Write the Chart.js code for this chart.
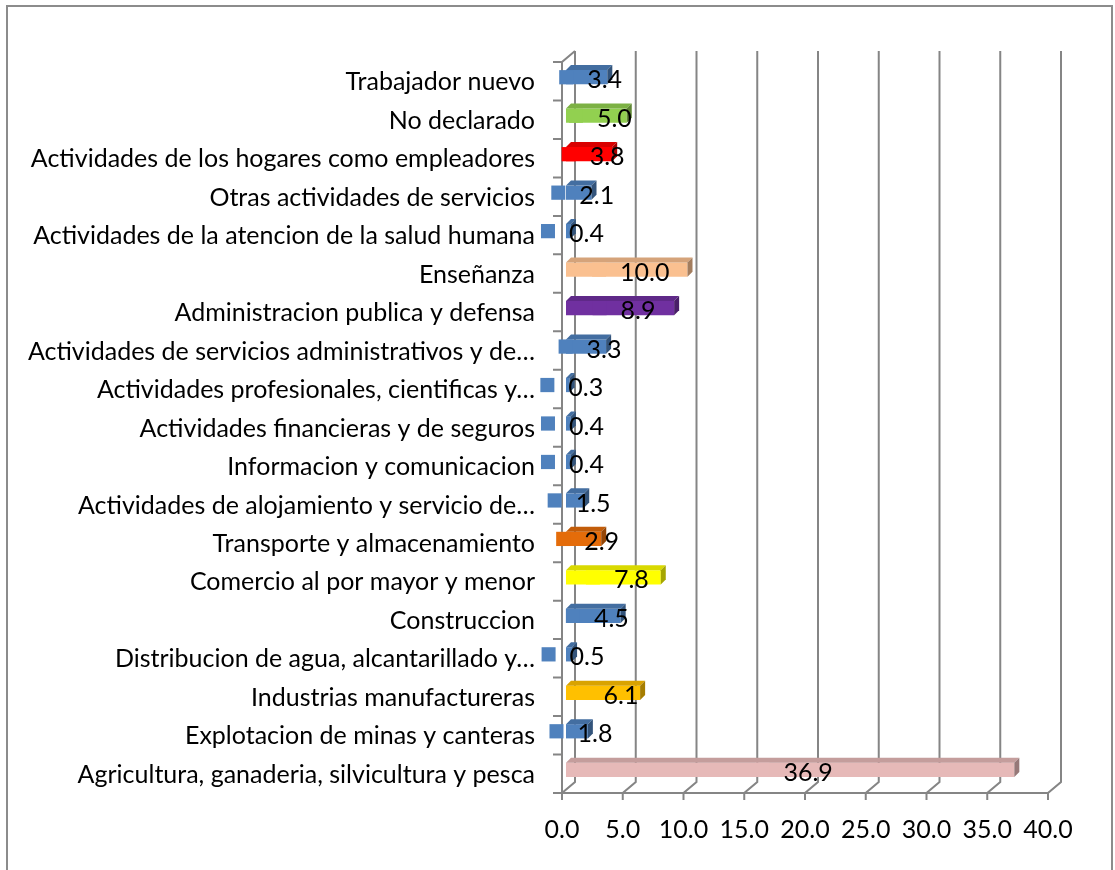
<!DOCTYPE html>
<html>
<head>
<meta charset="utf-8">
<script src="https://cdn.jsdelivr.net/npm/chart.js@4.4.1/dist/chart.umd.min.js"></script>
<style>
  body { margin: 0; background: #fff; }
  canvas { display: block; }
</style>
</head>
<body>
<canvas id="myChart" width="1115" height="870"></canvas>
<script>
// Sectors from the bottom bar up to the top one
const sectores = [
  'Agricultura, ganaderia, silvicultura y pesca',
  'Explotacion de minas y canteras',
  'Industrias manufactureras',
  'Distribucion de agua, alcantarillado y…',
  'Construccion',
  'Comercio al por mayor y menor',
  'Transporte y almacenamiento',
  'Actividades de alojamiento y servicio de…',
  'Informacion y comunicacion',
  'Actividades financieras y de seguros',
  'Actividades profesionales, cientificas y…',
  'Actividades de servicios administrativos y de…',
  'Administracion publica y defensa',
  'Enseñanza',
  'Actividades de la atencion de la salud humana',
  'Otras actividades de servicios',
  'Actividades de los hogares como empleadores',
  'No declarado',
  'Trabajador nuevo'
];

const porcentajes = [36.9, 1.8, 6.1, 0.5, 4.5, 7.8, 2.9, 1.5, 0.4, 0.4, 0.3, 3.3, 8.9, 10.0, 0.4, 2.1, 3.8, 5.0, 3.4];

const colores = [
  '#e6b9b8', '#4f81bd', '#ffc000', '#4f81bd', '#4f81bd', '#ffff00', '#e46c0a',
  '#4f81bd', '#4f81bd', '#4f81bd', '#4f81bd', '#4f81bd', '#7030a0', '#fac090',
  '#4f81bd', '#4f81bd', '#ff0000', '#92d050', '#4f81bd'
];

// value axis
const ejeMin = 0;
const ejeMax = 40;
const ejePaso = 5;

const FUENTE = 'Lato';
const TAM = 25;

// the bars sit in the middle plane; the front edge and back wall are offset from it
const FRENTE = { x: -4, y: 4 };
const FONDO = { x: 9, y: -7 };
const PROF = 5;      // bar depth
const GRIS = '#858585';

function oscurecer(hex, f) {
  const n = parseInt(hex.slice(1), 16);
  const r = Math.round(((n >> 16) & 255) * f);
  const g = Math.round(((n >> 8) & 255) * f);
  const b = Math.round((n & 255) * f);
  return 'rgb(' + r + ',' + g + ',' + b + ')';
}

// outer frame
const marco = {
  id: 'marco',
  beforeDraw(chart) {
    const ctx = chart.ctx;
    ctx.save();
    ctx.strokeStyle = '#8c8c8c';
    ctx.lineWidth = 2;
    ctx.beginPath();
    ctx.moveTo(7, 880);
    ctx.lineTo(7, 6);
    ctx.lineTo(1112, 6);
    ctx.lineTo(1112, 880);
    ctx.stroke();
    ctx.restore();
  }
};

// back wall, floor and left wall lines
const paredes = {
  id: 'paredes',
  beforeDatasetsDraw(chart) {
    const { ctx, chartArea: a, scales: { x } } = chart;
    const fb = a.bottom + FRENTE.y, bb = a.bottom + FONDO.y;
    const ft = a.top + FRENTE.y, bt = a.top + FONDO.y;
    ctx.save();
    ctx.strokeStyle = GRIS;
    ctx.lineWidth = 2;
    ctx.beginPath();
    x.ticks.forEach(t => {
      const px = x.getPixelForValue(t.value);
      ctx.moveTo(px + FONDO.x, bt);
      ctx.lineTo(px + FONDO.x, bb);
      ctx.lineTo(px + FRENTE.x, fb);
      ctx.lineTo(px + FRENTE.x, fb + 7);
    });
    ctx.moveTo(a.left + FRENTE.x, fb);
    ctx.lineTo(a.right + FRENTE.x, fb);
    ctx.moveTo(a.left + FONDO.x, bt);
    ctx.lineTo(a.left + FRENTE.x, ft);
    ctx.lineTo(a.left + FRENTE.x, fb);
    const n = sectores.length;
    for (let k = 0; k <= n; k++) {
      const yy = ft + k * (a.bottom - a.top) / n;
      ctx.moveTo(a.left + FRENTE.x - 9, yy);
      ctx.lineTo(a.left + FRENTE.x, yy);
    }
    ctx.stroke();
    ctx.restore();
  }
};

// top and side faces of each bar, then the value labels with their colour key
const barras3d = {
  id: 'barras3d',
  afterDatasetsDraw(chart) {
    const { ctx, scales: { x } } = chart;
    const meta = chart.getDatasetMeta(0);
    ctx.save();
    meta.data.forEach((el, i) => {
      const p = el.getProps(['x', 'y', 'base', 'height'], true);
      const top = p.y - p.height / 2, bot = p.y + p.height / 2;
      ctx.fillStyle = oscurecer(colores[i], 0.85);
      ctx.beginPath();
      ctx.moveTo(p.base, top);
      ctx.lineTo(p.x, top);
      ctx.lineTo(p.x + PROF, top - PROF);
      ctx.lineTo(p.base + PROF, top - PROF);
      ctx.closePath();
      ctx.fill();
      ctx.fillStyle = oscurecer(colores[i], 0.65);
      ctx.beginPath();
      ctx.moveTo(p.x, top);
      ctx.lineTo(p.x + PROF, top - PROF);
      ctx.lineTo(p.x + PROF, bot - PROF);
      ctx.lineTo(p.x, bot);
      ctx.closePath();
      ctx.fill();
    });

    ctx.font = TAM + 'px ' + FUENTE;
    ctx.textBaseline = 'middle';
    ctx.textAlign = 'left';
    meta.data.forEach((el, i) => {
      const v = porcentajes[i];
      const txt = v.toFixed(1);
      const w = ctx.measureText(txt).width;
      const cx = x.getPixelForValue(v / 2) + 4;
      const x0 = cx - (28 + w) / 2;
      const h = el.height;
      ctx.fillStyle = colores[i];
      ctx.fillRect(x0, el.y - h / 2, 14, h);
      ctx.fillStyle = '#000';
      ctx.fillText(txt, x0 + 28, el.y + 3);
    });
    ctx.restore();
  }
};

const ctx = document.getElementById('myChart').getContext('2d');

const chart = new Chart(ctx, {
  type: 'bar',
  data: {
    labels: sectores,
    datasets: [{
      data: porcentajes,
      backgroundColor: colores,
      borderWidth: 0,
      barPercentage: 0.37,
      categoryPercentage: 1
    }]
  },
  options: {
    indexAxis: 'y',
    responsive: false,
    animation: false,
    layout: { padding: { top: 58, right: 63, left: 0, bottom: 0 } },
    plugins: {
      legend: { display: false },
      tooltip: { enabled: false }
    },
    scales: {
      x: {
        min: ejeMin,
        max: ejeMax,
        grid: { display: false },
        border: { display: false },
        ticks: {
          stepSize: ejePaso,
          color: '#000',
          font: { family: FUENTE, size: TAM },
          padding: 18,
          labelOffset: -4,
          maxRotation: 0,
          callback: v => v.toFixed(1)
        },
        afterFit(scale) { scale.height = 81; }
      },
      y: {
        reverse: true,
        grid: { display: false },
        border: { display: false },
        ticks: {
          color: '#000',
          font: { family: FUENTE, size: TAM },
          padding: 23,
          labelOffset: 5,
          autoSkip: false
        },
        afterFit(scale) { scale.width = 566; }
      }
    }
  },
  plugins: [marco, paredes, barras3d]
});
</script>
</body>
</html>
